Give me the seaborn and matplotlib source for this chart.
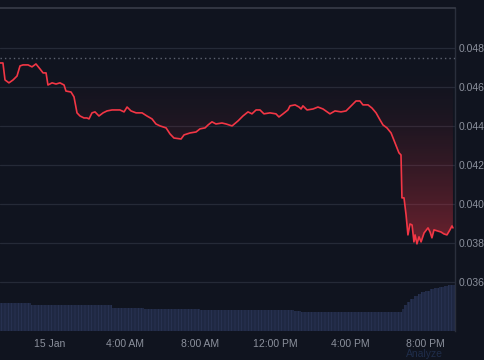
import numpy as np
import pandas as pd
import matplotlib
matplotlib.use("Agg")
import matplotlib.pyplot as plt
from matplotlib.colors import LinearSegmentedColormap
import seaborn as sns

# ---- data (hours relative to 15 Jan 00:00, price) ----
hours = [-2.67, -2.51, -2.40, -2.19, -1.97, -1.76, -1.60, -1.44, -1.17, -0.96, -0.75, -0.53,
         -0.37, -0.21, -0.11, 0.11, 0.32, 0.53, 0.75, 0.85, 1.12, 1.28, 1.44, 1.60, 1.81, 1.97,
         2.08, 2.24, 2.40, 2.61, 2.83, 3.04, 3.31, 3.57, 3.73, 3.95, 4.11, 4.32, 4.59, 4.91,
         5.17, 5.44, 5.65, 5.87, 6.19, 6.40, 6.61, 6.99, 7.15, 7.47, 7.79, 8.00, 8.27, 8.43,
         8.64, 8.85, 9.17, 9.39, 9.71, 10.03, 10.29, 10.56, 10.77, 10.99, 11.20, 11.41, 11.73,
         12.05, 12.21, 12.43, 12.69, 12.80, 13.07, 13.28, 13.39, 13.49, 13.71, 14.03, 14.29,
         14.56, 14.93, 15.20, 15.52, 15.79, 16.00, 16.32, 16.53, 16.69, 16.96, 17.17, 17.39,
         17.60, 17.76, 17.97, 18.19, 18.40, 18.61, 18.72, 18.77, 18.88, 18.99, 19.09, 19.20,
         19.31, 19.41, 19.47, 19.57, 19.68, 19.79, 19.95, 20.16, 20.27, 20.37, 20.48, 20.64,
         20.85, 21.01, 21.17, 21.33, 21.44, 21.49]
prices = [0.04723, 0.04723, 0.04636, 0.04621, 0.04636, 0.04656, 0.04708, 0.04713, 0.04713,
          0.04703, 0.04718, 0.04692, 0.04672, 0.04672, 0.04610, 0.04621, 0.04615, 0.04621,
          0.04610, 0.04579, 0.04574, 0.04549, 0.04467, 0.04451, 0.04441, 0.04441, 0.04436,
          0.04467, 0.04472, 0.04451, 0.04467, 0.04477, 0.04482, 0.04482, 0.04482, 0.04472,
          0.04497, 0.04477, 0.04467, 0.04467, 0.04451, 0.04436, 0.04410, 0.04400, 0.04390,
          0.04359, 0.04338, 0.04333, 0.04354, 0.04364, 0.04369, 0.04385, 0.04390, 0.04405,
          0.04421, 0.04410, 0.04415, 0.04410, 0.04400, 0.04426, 0.04451, 0.04472, 0.04462,
          0.04482, 0.04482, 0.04462, 0.04467, 0.04462, 0.04446, 0.04462, 0.04482, 0.04503,
          0.04508, 0.04497, 0.04487, 0.04503, 0.04482, 0.04487, 0.04497, 0.04487, 0.04462,
          0.04477, 0.04472, 0.04477, 0.04497, 0.04528, 0.04528, 0.04508, 0.04508, 0.04492,
          0.04467, 0.04431, 0.04405, 0.04390, 0.04364, 0.04313, 0.04262, 0.04251, 0.04031,
          0.04031, 0.03944, 0.03841, 0.03897, 0.03892, 0.03805, 0.03841, 0.03795, 0.03831,
          0.03805, 0.03851, 0.03877, 0.03856, 0.03826, 0.03867, 0.03862, 0.03856, 0.03846,
          0.03841, 0.03867, 0.03887, 0.03877]
base_price = 0.04749

# volume bars: start hour of each bucket (last entry closes the final bucket)
vol_start = [-2.67, -2.0, -1.0, -0.5, 0.0, 1.0, 2.0, 3.0, 3.3, 4.0, 5.0, 6.0, 7.0, 8.0,
             9.0, 10.0, 11.0, 12.0, 13.0, 13.4, 14.5, 16.0, 17.5, 18.75, 18.9, 19.05,
             19.2, 19.4, 19.6, 19.8, 20.0, 20.25, 20.5, 20.75, 21.0, 21.25, 21.6]
volumes = [28, 28, 26.5, 26, 26.5, 26, 26, 26, 23.5, 23, 22.5, 22, 22, 21.5, 21.5, 21,
           21, 21, 20.5, 19.5, 19.5, 19, 19, 22, 26, 29, 32, 35, 37, 39, 40.5, 42, 43,
           44, 45, 46.5]

tick_hours = [0, 4, 8, 12, 16, 20]
tick_labels = ["15 Jan", "4:00 AM", "8:00 AM", "12:00 PM", "4:00 PM", "8:00 PM"]
price_ticks = [0.036, 0.038, 0.040, 0.042, 0.044, 0.046, 0.048]

# ---- style ----
bg = "#10141f"
grid_c = "#252a37"
text_c = "#8b909c"
line_c = "#f23645"

sns.set_theme(style="dark")
plt.rcParams["font.family"] = ["Liberation Sans", "DejaVu Sans"]
plt.rcParams["hatch.linewidth"] = 0.5

fig = plt.figure(figsize=(4.85, 3.6), dpi=100, facecolor=bg)
pos = [0.0, 29 / 360, 455 / 485, 323 / 360]
axv = fig.add_axes(pos, facecolor=bg)
ax = fig.add_axes(pos, sharex=axv)
ax.set_facecolor("none")

xlim = (-2.667, 21.6)

# volume bars
vs = np.array(vol_start)
axv.bar(vs[:-1], volumes, width=np.diff(vs), align="edge", color="#1f2842",
        edgecolor="#2b3657", hatch="|||||", linewidth=0, zorder=1)
axv.set_ylim(0, 323)
axv.set_yticks([])
axv.grid(False)
for s in axv.spines.values():
    s.set_visible(False)
axv.tick_params(axis="x", length=0, colors=text_c, labelsize=7.5, pad=6)

df = pd.DataFrame({"hour": hours, "price": prices})

# gradient fill between line and baseline (stronger toward low prices)
t = np.linspace(0, 1, 256)
cols = np.zeros((256, 4))
cols[:, 0], cols[:, 1], cols[:, 2] = 0.95, 0.21, 0.27
cols[:, 3] = 0.42 * t ** 1.7
cmap = LinearSegmentedColormap.from_list("redfade", cols)
grad = np.linspace(1, 0, 256).reshape(-1, 1)
low = 0.0378
im = ax.imshow(grad, cmap=cmap, extent=[xlim[0], xlim[1], low, base_price],
               origin="lower", aspect="auto", zorder=1, interpolation="bilinear")
poly = ax.fill_between(df["hour"], df["price"], base_price,
                       where=np.array(prices) <= base_price, interpolate=True,
                       color="none", linewidth=0)
im.set_clip_path(poly.get_paths()[0], transform=ax.transData)

sns.lineplot(data=df, x="hour", y="price", ax=ax, color=line_c, linewidth=1.2,
             zorder=4, legend=False)

ax.axhline(base_price, color="#5d6270", linestyle=(0, (1, 2.2)), linewidth=1.0, zorder=3)

ax.set_xlim(*xlim)
ax.set_ylim(0.03348, 0.05005)
ax.set_yticks(price_ticks)
ax.set_yticklabels([f"{v:.3f}" for v in price_ticks])
ax.yaxis.tick_right()
ax.tick_params(axis="y", length=0, colors=text_c, labelsize=7.5, pad=2.5)
ax.tick_params(axis="x", length=0, labelbottom=False)
ax.set_xticks(tick_hours)
axv.set_xticks(tick_hours)
axv.set_xticklabels(tick_labels)
ax.set_xlabel("")
ax.set_ylabel("")
axv.set_xlabel("")
ax.grid(axis="y", color=grid_c, linewidth=0.9, zorder=0)
ax.grid(axis="x", visible=False)
for name, s in ax.spines.items():
    s.set_visible(False)
ax.spines["top"].set_visible(True)
ax.spines["top"].set_color("#383c48")
ax.spines["top"].set_linewidth(1.2)
ax.spines["right"].set_visible(True)
ax.spines["right"].set_color("#2a2f3c")
ax.spines["right"].set_linewidth(1.0)

fig.text(424 / 485, 1 - 354 / 360, "Analyze", color="#1f2d4a", fontsize=7.5,
         ha="center", va="center")

fig.savefig("out.png", dpi=100, facecolor=bg)
